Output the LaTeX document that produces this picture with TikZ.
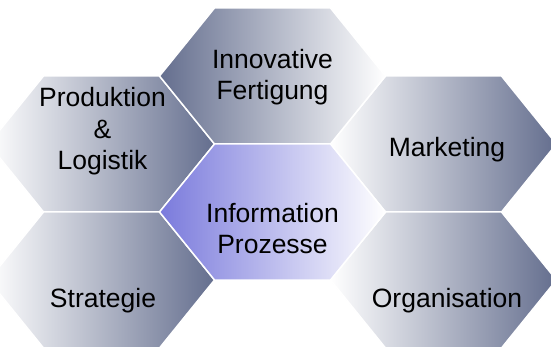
\documentclass[tikz,border=0pt]{standalone}
\usepackage{fontspec}
\setmainfont{Liberation Sans}
\definecolor{hexdark}{RGB}{100,110,142}
\definecolor{hexblue}{RGB}{122,122,220}
\begin{document}
\begin{tikzpicture}[x=1pt,y=-1pt,
  hexpath/.style={insert path={(-113,0) -- (-58,-68) -- (58,-68) -- (113,0) -- (58,68) -- (-58,68) -- cycle}},
  hexcell/.style={draw=white, line width=1.5pt, line join=miter, hexpath},
  greyLR/.style={left color=white, right color=hexdark, hexcell},
  greyRL/.style={left color=hexdark, right color=white, hexcell},
  blueRL/.style={left color=hexblue, right color=white, hexcell},
  hexlabel/.style={font=\fontsize{26.5}{31.5}\selectfont, align=center, inner sep=0pt, text=black, anchor=base}]
\useasboundingbox (0,0) rectangle (551,347);
\clip (0,0) rectangle (551,347);
\coordinate (cTop) at (272.5,76);
\coordinate (cMid) at (272.5,212);
\coordinate (cUL) at (101.5,144);
\coordinate (cLL) at (101.5,280);
\coordinate (cUR) at (443.5,144);
\coordinate (cLR) at (443.5,280);
\path[shift={(cUL)}, greyLR];
\path[shift={(cLL)}, greyLR];
\path[shift={(cUR)}, greyLR];
\path[shift={(cLR)}, greyLR];
\path[shift={(cTop)}, greyRL];
\path[shift={(cMid)}, blueRL];
\node[hexlabel] (tTop) at (272.5,100) {Innovative\\Fertigung};
\node[hexlabel] (tUL) at (102.5,170) {Produktion\\\&\\Logistik};
\node[hexlabel] (tUR) at (447,157) {Marketing};
\node[hexlabel] (tMid) at (272.5,254) {Information\\Prozesse};
\node[hexlabel] (tLL) at (103,307.5) {Strategie};
\node[hexlabel] (tLR) at (447,307.5) {Organisation};
\end{tikzpicture}
\end{document}
